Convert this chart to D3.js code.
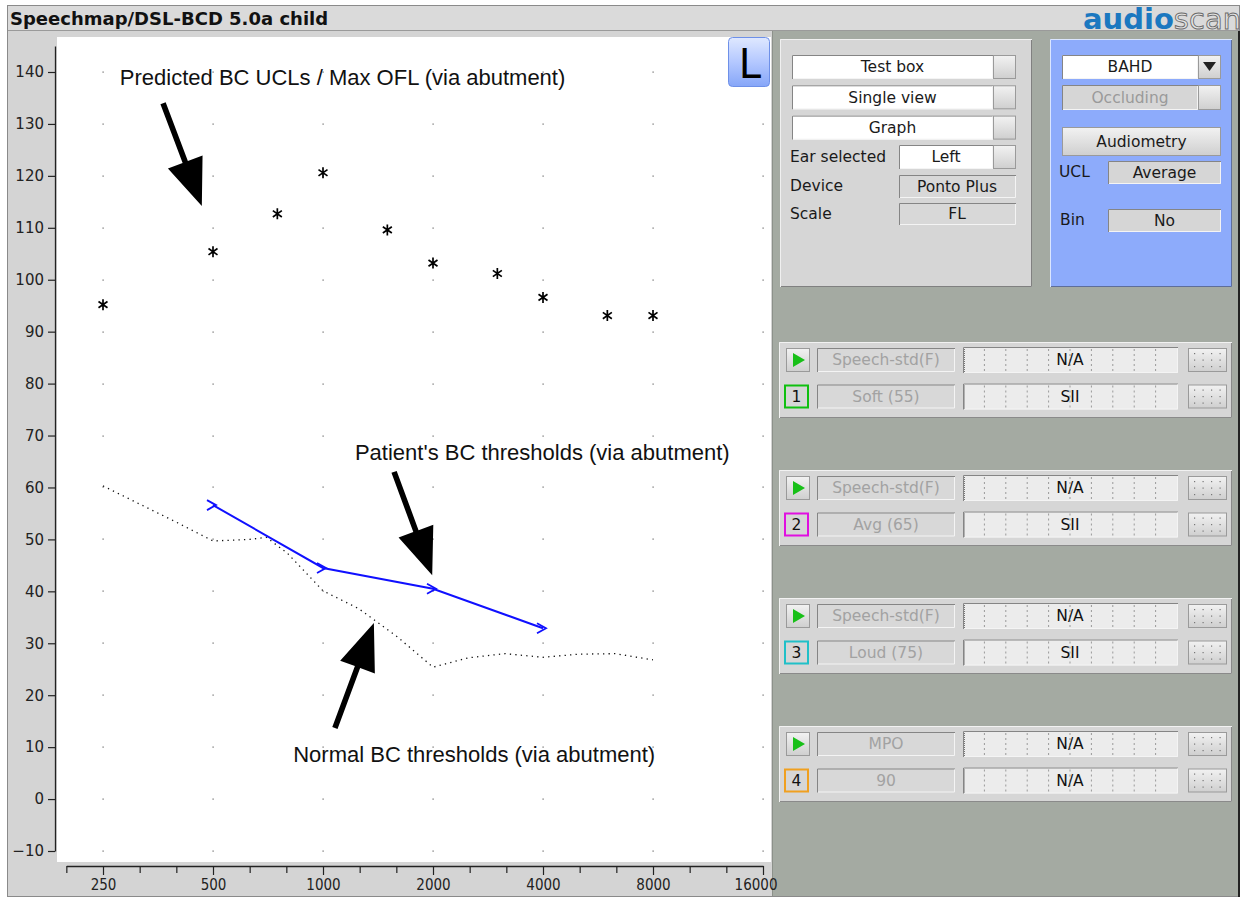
<!DOCTYPE html>
<html><head><meta charset="utf-8">
<script src="https://cdn.jsdelivr.net/npm/d3@7"></script>
<style>html,body{margin:0;padding:0;background:#fff;} svg{display:block;}</style>
</head><body>
<svg id="c" width="1244" height="899"></svg>
<script>
// ---------------- DATA ----------------
const uclFreqs = [250, 500, 750, 1000, 1500, 2000, 3000, 4000, 6000, 8000];
const uclValues = [95.2, 105.4, 112.7, 120.6, 109.6, 103.2, 101.2, 96.6, 93.1, 93.1];
const patientFreqs = [500, 1000, 2000, 4000];
const patientValues = [56.6, 44.5, 40.5, 32.9];
const normalFreqs = [250, 315, 400, 500, 630, 700, 800, 1000, 1250, 1600, 2000, 2500, 3150, 4000, 5000, 6300, 8000];
const normalValues = [60.3, 56.8, 53.2, 49.7, 50.0, 50.4, 47.3, 40.1, 36.7, 31.2, 25.4, 27.2, 28.0, 27.3, 27.9, 28.0, 26.8];
const xTickFreqs = [250, 500, 1000, 2000, 4000, 8000, 16000];
const xTickLabels = ["250", "500", "1000", "2000", "4000", "8000", "16000"];
const yTickValues = [-10, 0, 10, 20, 30, 40, 50, 60, 70, 80, 90, 100, 110, 120, 130, 140];
const annotationTexts = ["Predicted BC UCLs / Max OFL (via abutment)", "Patient's BC thresholds (via abutment)", "Normal BC thresholds (via abutment)"];
const annotationAnchors = [[278, 139], [1223, 66.8], [829, 8.7]];
const arrowTails = [[365, 134], [1565, 63], [1078, 13.7]];
const arrowTips = [[466, 114.2], [1990, 43.1], [1378, 33.9]];
const setupLabels = ["Test box", "Single view", "Graph"];
const groupRow1Labels = ["Speech-std(F)", "Speech-std(F)", "Speech-std(F)", "MPO"];
const groupRow2Labels = ["Soft (55)", "Avg (65)", "Loud (75)", "90"];
const groupRow1Meter = ["N/A", "N/A", "N/A", "N/A"];
const groupRow2Meter = ["SII", "SII", "SII", "N/A"];
const groupNumbers = ["1", "2", "3", "4"];
const groupColors = ["#10c010", "#e010e0", "#20c0c8", "#f0a020"];

// ---------------- SETUP ----------------
const svg = d3.select("#c");
const UI = "'DejaVu Sans', Verdana, sans-serif";
const defs = svg.append("defs");
const g1 = defs.append("linearGradient").attr("id", "btn").attr("x1", 0).attr("y1", 0).attr("x2", 0).attr("y2", 1);
g1.append("stop").attr("offset", "0").attr("stop-color", "#f2f2f2");
g1.append("stop").attr("offset", "1").attr("stop-color", "#cfcfcf");
const g2 = defs.append("linearGradient").attr("id", "lbtn").attr("x1", 0).attr("y1", 0).attr("x2", 0).attr("y2", 1);
g2.append("stop").attr("offset", "0").attr("stop-color", "#dfe8ff");
g2.append("stop").attr("offset", "0.5").attr("stop-color", "#b4c8ff");
g2.append("stop").attr("offset", "1").attr("stop-color", "#86a6f8");

// window frame
svg.append("rect").attr("x", 7.5).attr("y", 5.5).attr("width", 1232).attr("height", 891).attr("fill", "#d4d4d4").attr("stroke", "#8a8a8a");
// title bar
svg.append("rect").attr("x", 8).attr("y", 6).attr("width", 1231).attr("height", 24).attr("fill", "#dadada");
svg.append("line").attr("x1", 8).attr("x2", 1239).attr("y1", 30.5).attr("y2", 30.5).attr("stroke", "#9a9a9a");
svg.append("text").attr("x", 10).attr("y", 25).attr("font-family", UI).attr("font-weight", "bold").attr("font-size", 18).attr("fill", "#111").text("Speechmap/DSL-BCD 5.0a child");
// logo
const logo = svg.append("text").attr("x", 1083).attr("y", 29).attr("font-family", UI).attr("font-size", 29);
logo.append("tspan").attr("font-weight", "bold").attr("fill", "#1b78c0").text("audio");
logo.append("tspan").attr("fill", "#e4e4e4").attr("stroke", "#6a6a6a").attr("stroke-width", 0.9).text("scan");

// ---------------- CHART ----------------
const plot = {left: 57, top: 37, right: 771, bottom: 862};
svg.append("rect").attr("x", plot.left).attr("y", plot.top).attr("width", plot.right - plot.left).attr("height", plot.bottom - plot.top).attr("fill", "#fff");

const x = d3.scaleLog().base(2).domain([250, 16000]).range([103, 763]);
const y = d3.scaleLinear().domain([-10, 140]).range([851, 72]);

// grid dots
const gridG = svg.append("g");
xTickFreqs.forEach(f => yTickValues.forEach(v => {
  gridG.append("rect").attr("x", Math.round(x(f)) - 0.5).attr("y", Math.round(y(v)) - 0.5).attr("width", 1.2).attr("height", 1.2).attr("fill", "#666");
}));

// y axis
const yAxisScale = y.copy().domain([-10, 145]).range([y(-10), y(145)]);
const yAxisG = svg.append("g").attr("transform", "translate(55,0)")
  .call(d3.axisLeft(yAxisScale).tickValues(yTickValues).tickSize(7).tickSizeOuter(0).tickPadding(4).tickFormat(d3.format("d")));
yAxisG.select(".domain").attr("stroke", "#222").attr("stroke-width", 1.3);
yAxisG.selectAll(".tick line").attr("stroke", "#222").attr("stroke-width", 1.2);
yAxisG.selectAll("text").attr("font-family", UI).attr("font-size", 15).attr("fill", "#222");

// normal BC thresholds (dotted)
const normalPts = normalFreqs.map((f, i) => [f, normalValues[i]]);
svg.append("path").datum(normalPts)
  .attr("d", d3.line().x(d => x(d[0])).y(d => y(d[1])))
  .attr("fill", "none").attr("stroke", "#111").attr("stroke-width", 1.3).attr("stroke-dasharray", "1.3,4.2");

// patient's BC thresholds (blue)
const patPts = patientFreqs.map((f, i) => [f, patientValues[i]]);
svg.append("path").datum(patPts)
  .attr("d", d3.line().x(d => x(d[0])).y(d => y(d[1])))
  .attr("fill", "none").attr("stroke", "#1010ff").attr("stroke-width", 2);
svg.append("g").selectAll("path").data(patPts).join("path")
  .attr("transform", d => `translate(${x(d[0]) + 3},${y(d[1])})`)
  .attr("d", "M-9,-5L0,0L-9,5")
  .attr("fill", "none").attr("stroke", "#1010ff").attr("stroke-width", 1.8);

// UCL asterisks
const uclPts = uclFreqs.map((f, i) => [f, uclValues[i]]);
const ast = [90, 35, -35].map(a => { const r = 5.5, c = Math.cos(a * Math.PI / 180) * r, s = Math.sin(a * Math.PI / 180) * r; return `M${-c},${s}L${c},${-s}`; }).join("");
svg.append("g").selectAll("path").data(uclPts).join("path")
  .attr("transform", d => `translate(${x(d[0])},${y(d[1])})`)
  .attr("d", ast).attr("stroke", "#000").attr("stroke-width", 1.7).attr("fill", "none");

// annotations
svg.append("g").selectAll("text").data(annotationTexts).join("text")
  .attr("x", (d, i) => x(annotationAnchors[i][0]))
  .attr("y", (d, i) => y(annotationAnchors[i][1]))
  .attr("dy", "0.35em")
  .attr("font-family", "'Liberation Sans', Arial, sans-serif").attr("font-size", 22).attr("fill", "#111")
  .text(d => d);

function arrowPoly(x1, y1, x2, y2) {
  const dx = x2 - x1, dy = y2 - y1, L = Math.hypot(dx, dy);
  const ux = dx / L, uy = dy / L, px = -uy, py = ux;
  const hl = 47, hw = 18.5, sw = 2.8;
  const bx = x2 - ux * hl, by = y2 - uy * hl;
  const P = [[x1 + px * sw, y1 + py * sw], [bx + px * sw, by + py * sw], [bx + px * hw, by + py * hw], [x2, y2],
             [bx - px * hw, by - py * hw], [bx - px * sw, by - py * sw], [x1 - px * sw, y1 - py * sw]];
  return "M" + P.map(p => p.join(",")).join("L") + "Z";
}
svg.append("g").selectAll("path").data(arrowTails).join("path")
  .attr("d", (d, i) => arrowPoly(x(d[0]), y(d[1]), x(arrowTips[i][0]), y(arrowTips[i][1])))
  .attr("fill", "#000");

// L button
svg.append("rect").attr("x", 728.5).attr("y", 37.5).attr("width", 41).attr("height", 49).attr("rx", 4)
  .attr("fill", "url(#lbtn)").attr("stroke", "#6e90e8");
svg.append("text").attr("x", 750).attr("y", 78).attr("text-anchor", "middle").attr("font-family", UI).attr("font-size", 40).attr("fill", "#000").text("L");

// ---------------- RIGHT PANEL ----------------
svg.append("rect").attr("x", 773).attr("y", 31).attr("width", 466).attr("height", 865).attr("fill", "#a4aaa2");
svg.append("line").attr("x1", 772.5).attr("x2", 772.5).attr("y1", 31).attr("y2", 896).attr("stroke", "#8c918a");
svg.append("line").attr("x1", 1239).attr("x2", 1239).attr("y1", 31).attr("y2", 897).attr("stroke", "#222").attr("stroke-width", 2);

// x axis (drawn after the panel so the last label stays visible)
const minorFreqs = d3.range(-1, 19).map(k => 250 * Math.pow(2, k / 3));
const xAxisScale = x.copy().domain([minorFreqs[0], 16000]).range([x(minorFreqs[0]), x(16000)]);
const isMajor = d => xTickFreqs.some(f => Math.abs(f - d) / f < 0.01);
const xAxisG = svg.append("g").attr("transform", "translate(0,866)")
  .call(d3.axisBottom(xAxisScale).tickValues(minorFreqs).tickSize(7).tickSizeOuter(0).tickPadding(6)
    .tickFormat(d => { const i = xTickFreqs.findIndex(f => Math.abs(f - d) / f < 0.01); return i >= 0 ? xTickLabels[i] : ""; }));
xAxisG.select(".domain").attr("stroke", "#222").attr("stroke-width", 1.3);
xAxisG.selectAll(".tick line").attr("stroke", "#222").attr("stroke-width", 1.2).attr("y2", d => isMajor(d) ? 9 : 7);
xAxisG.selectAll("text").attr("font-family", "'DejaVu Sans Condensed', 'DejaVu Sans', sans-serif").attr("font-stretch", "condensed").attr("font-size", 15).attr("fill", "#222")
  .filter(d => Math.abs(d - 16000) < 1).attr("text-anchor", "end").attr("x", 14);

function sunkenBox(x0, y0, w, h, fill) {
  svg.append("rect").attr("x", x0).attr("y", y0).attr("width", w).attr("height", h).attr("fill", fill);
  svg.append("path").attr("d", `M${x0 + 0.5},${y0 + h}V${y0 + 0.5}H${x0 + w}`).attr("fill", "none").attr("stroke", "#858585");
  svg.append("path").attr("d", `M${x0 + w - 0.5},${y0 + 1}V${y0 + h - 0.5}H${x0 + 1}`).attr("fill", "none").attr("stroke", "#f4f4f4");
}
function raisedBox(x0, y0, w, h, fill, light, dark) {
  svg.append("rect").attr("x", x0).attr("y", y0).attr("width", w).attr("height", h).attr("fill", fill);
  svg.append("path").attr("d", `M${x0 + 0.5},${y0 + h}V${y0 + 0.5}H${x0 + w}`).attr("fill", "none").attr("stroke", light || "#f8f8f8");
  svg.append("path").attr("d", `M${x0 + w - 0.5},${y0 + 1}V${y0 + h - 0.5}H${x0 + 1}`).attr("fill", "none").attr("stroke", dark || "#7a7a7a");
}
function button(x0, y0, w, h) {
  svg.append("rect").attr("x", x0 + 0.5).attr("y", y0 + 0.5).attr("width", w - 1).attr("height", h - 1).attr("fill", "url(#btn)").attr("stroke", "#9a9a9a");
}
function label(t, x0, y0, anchor, color, size) {
  svg.append("text").attr("x", x0).attr("y", y0).attr("dy", "0.35em").attr("text-anchor", anchor || "start")
    .attr("font-family", UI).attr("font-size", size || 15.5).attr("fill", color || "#1a1a1a").text(t);
}

// box 1
raisedBox(780, 39, 252, 248, "#d6d6d6", "#f0f0f0", "#808080");
setupLabels.forEach((t, i) => {
  const yy = 55 + i * 30.3;
  sunkenBox(792, yy, 201, 24, "#fff");
  button(993, yy, 23, 24);
  label(t, 892.5, yy + 12, "middle");
});
label("Ear selected", 790, 157);
sunkenBox(899, 145, 94, 24, "#fff"); button(993, 145, 23, 24);
label("Left", 946, 157, "middle");
label("Device", 790, 186);
sunkenBox(899, 175, 117, 23, "#d8d8d8"); label("Ponto Plus", 957, 186.5, "middle");
label("Scale", 790, 214);
sunkenBox(899, 203, 117, 22, "#d8d8d8"); label("FL", 957, 214, "middle");

// box 2 (blue)
raisedBox(1050, 39, 182, 248, "#8dabfb", "#dbe6ff", "#5e6e9a");
sunkenBox(1062, 55, 136, 24, "#fff"); label("BAHD", 1130, 67, "middle");
button(1198, 55, 23, 24);
svg.append("path").attr("d", "M1203,62H1216L1209.5,71Z").attr("fill", "#222");
sunkenBox(1062, 85, 136, 25, "#d6d6d6"); label("Occluding", 1130, 97.5, "middle", "#9a9a9a");
button(1198, 85, 23, 25);
button(1062, 127, 159, 29); label("Audiometry", 1141.5, 141.5, "middle");
label("UCL", 1059, 172);
sunkenBox(1108, 161, 113, 23, "#d6d6d6"); label("Average", 1164.5, 172.5, "middle");
label("Bin", 1060, 220);
sunkenBox(1108, 209, 113, 23, "#d6d6d6"); label("No", 1164.5, 220.5, "middle");

// groups
const meterLines = d3.range(1, 10).map(k => k * 21.4);
groupNumbers.forEach((n, i) => {
  const top = 342 + i * 128;
  raisedBox(779, top, 453, 76, "#d6d6d6", "#f2f2f2", "#8a8a8a");
  [0, 1].forEach(r => {
    const cy = top + (r === 0 ? 18 : 54.5);
    if (r === 0) {
      button(786, cy - 12, 24, 24);
      svg.append("path").attr("d", `M${793},${cy - 7}L${805},${cy}L${793},${cy + 7}Z`).attr("fill", "#18c018");
    } else {
      svg.append("rect").attr("x", 785).attr("y", cy - 11).attr("width", 23).attr("height", 22).attr("fill", "#d6d6d6")
        .attr("stroke", groupColors[i]).attr("stroke-width", 2);
      label(n, 796.5, cy + 0.5, "middle", "#111");
    }
    sunkenBox(817, cy - 12, 138, 24, "#d8d8d8");
    label(r === 0 ? groupRow1Labels[i] : groupRow2Labels[i], 886, cy, "middle", "#a2a2a2");
    sunkenBox(963, cy - 13, 215, 26, "#ececec");
    meterLines.forEach(mx => {
      svg.append("line").attr("x1", 963 + mx).attr("x2", 963 + mx).attr("y1", cy - 11).attr("y2", cy + 12)
        .attr("stroke", "#9a9a9a").attr("stroke-dasharray", "2,3");
    });
    svg.append("line").attr("x1", 964.5).attr("x2", 964.5).attr("y1", cy - 11).attr("y2", cy + 12).attr("stroke", "#777").attr("stroke-dasharray", "1,1");
    label(r === 0 ? groupRow1Meter[i] : groupRow2Meter[i], 1070, cy, "middle", "#111");
    button(1188, cy - 12, 39, 24);
    [0, 1, 2].forEach(ry => [0, 1, 2, 3].forEach(rx => {
      svg.append("rect").attr("x", 1194 + rx * 8.5).attr("y", cy - 7 + ry * 6.5).attr("width", 1.2).attr("height", 1.2).attr("fill", "#777");
    }));
  });
});
</script>
</body></html>
